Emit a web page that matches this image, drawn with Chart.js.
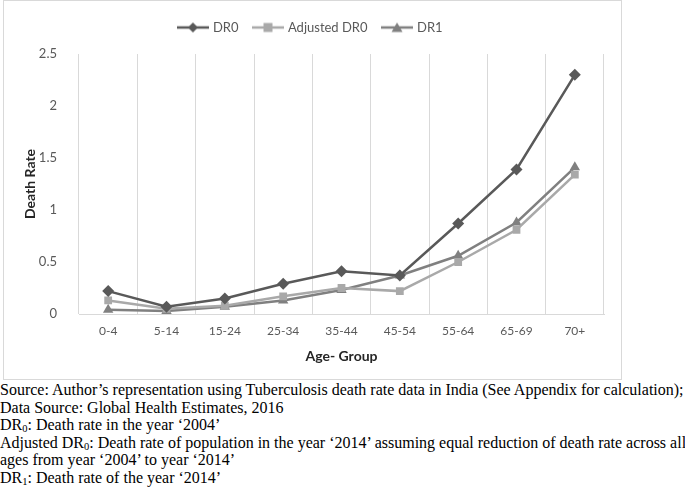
<!DOCTYPE html>
<html>
<head>
<meta charset="utf-8">
<script src="https://cdn.jsdelivr.net/npm/chart.js@4"></script>
<style>
  body { margin: 0; background: #fff; }
  #box { position: absolute; left: 3px; top: 0; width: 617px; height: 378px; border: 1px solid #d9d9d9; }
  #notes { position: absolute; left: 0; top: 381px; width: 700px; font-family: "Liberation Serif", serif; font-size: 16px; line-height: 17.6px; color: #000; white-space: nowrap; }
  #notes div { height: 17.6px; }
  #notes sub { font-size: 10.5px; vertical-align: baseline; position: relative; top: 2px; line-height: 0; }
</style>
</head>
<body>
<div id="box"><canvas id="chart" width="617" height="378"></canvas></div>
<div id="notes">
  <div>Source: Author’s representation using Tuberculosis death rate data in India (See Appendix for calculation);</div>
  <div>Data Source: Global Health Estimates, 2016</div>
  <div>DR<sub>0</sub>: Death rate in the year ‘2004’</div>
  <div>Adjusted DR<sub>0</sub>: Death rate of population in the year ‘2014’ assuming equal reduction of death rate across all</div>
  <div>ages from year ‘2004’ to year ‘2014’</div>
  <div>DR<sub>1</sub>: Death rate of the year ‘2014’</div>
</div>
<script>
const ageGroups = ['0-4', '5-14', '15-24', '25-34', '35-44', '45-54', '55-64', '65-69', '70+'];
const dr0 = [0.22, 0.07, 0.15, 0.29, 0.41, 0.37, 0.87, 1.39, 2.30];
const adjustedDr0 = [0.13, 0.05, 0.08, 0.17, 0.25, 0.22, 0.50, 0.81, 1.34];
const dr1 = [0.04, 0.03, 0.07, 0.13, 0.23, 0.37, 0.56, 0.88, 1.41];
const yTicks = [0, 0.5, 1, 1.5, 2, 2.5];

const font = '"Lato", "Noto Sans", sans-serif';

// small legend icon: line with marker in the middle
function legendIcon(color, style) {
  const c = document.createElement('canvas');
  c.width = 32; c.height = 12;
  const g = c.getContext('2d');
  g.strokeStyle = color; g.fillStyle = color; g.lineWidth = 2.5;
  g.beginPath(); g.moveTo(0, 6); g.lineTo(32, 6); g.stroke();
  g.beginPath();
  if (style === 'rectRot') { g.moveTo(16, 1); g.lineTo(21, 6); g.lineTo(16, 11); g.lineTo(11, 6); }
  else if (style === 'rect') { g.rect(11.5, 1.5, 9, 9); }
  else { g.moveTo(16, 1); g.lineTo(21.5, 10.5); g.lineTo(10.5, 10.5); }
  g.closePath(); g.fill();
  return c;
}

function series(label, data, color, style, radius) {
  return {
    label, data,
    borderColor: color, backgroundColor: color,
    borderWidth: 2.5,
    pointStyle: style, pointRadius: radius, pointHoverRadius: radius,
    pointBorderWidth: 0,
    tension: 0,
    icon: legendIcon(color, style)
  };
}

// extra room under the legend
const legendGap = {
  id: 'legendGap',
  beforeInit(chart) {
    const fit = chart.legend.fit;
    chart.legend.fit = function () { fit.call(this); this.height += 10; };
  }
};

new Chart(document.getElementById('chart'), {
  type: 'line',
  data: {
    labels: ageGroups,
    datasets: [
      series('DR0', dr0, '#595959', 'rectRot', 6),
      series('Adjusted DR0', adjustedDr0, '#a9a9a9', 'rect', 5.5),
      series('DR1', dr1, '#808080', 'triangle', 6)
    ]
  },
  plugins: [legendGap],
  options: {
    responsive: false,
    animation: false,
    layout: { padding: { left: 14, right: 17, top: 4, bottom: 10 } },
    plugins: {
      tooltip: { enabled: false },
      legend: {
        position: 'top',
        labels: {
          usePointStyle: true,
          pointStyleWidth: 27,
          boxHeight: 12,
          padding: 16,
          color: '#595959',
          font: { family: font, size: 13 },
          generateLabels: (chart) => chart.data.datasets.map((ds, i) => ({
            text: ds.label, pointStyle: ds.icon, fontColor: '#595959',
            lineWidth: 0, strokeStyle: 'transparent', fillStyle: 'transparent', datasetIndex: i
          }))
        }
      }
    },
    scales: {
      x: {
        offset: true,
        grid: { display: true, offset: true, color: '#d9d9d9', drawTicks: false },
        border: { display: true, color: '#d9d9d9' },
        ticks: { color: '#595959', font: { family: font, size: 12 }, padding: 10 },
        title: { display: true, text: 'Age- Group', color: '#262626', font: { family: font, size: 14, weight: 'bold' }, padding: { top: 5 } },
        afterFit: (s) => { s.height = 55; }
      },
      y: {
        min: 0, max: 2.5,
        afterBuildTicks: (s) => { s.ticks = yTicks.map(v => ({ value: v })); },
        grid: { display: false },
        border: { display: false },
        ticks: { color: '#595959', font: { family: font, size: 13 }, padding: 14, callback: (v) => String(v) },
        title: { display: true, text: 'Death Rate', color: '#262626', font: { family: font, size: 14, weight: 'bold' } },
        afterFit: (s) => { s.width = 61; }
      }
    }
  }
});
</script>
</body>
</html>
